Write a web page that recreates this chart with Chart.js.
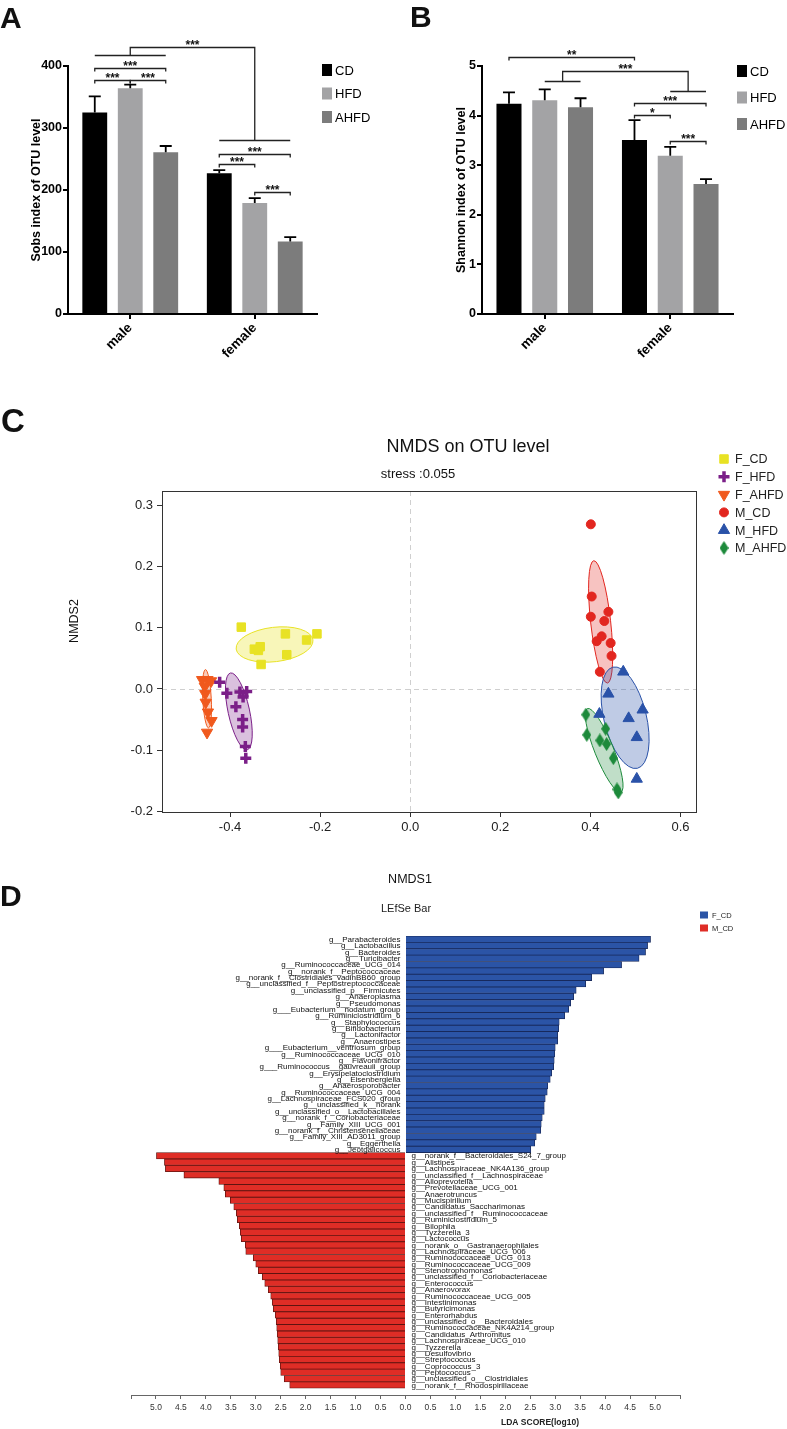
<!DOCTYPE html>
<html lang="en">
<head>
<meta charset="utf-8">
<title>Diet and sex effects on gut microbiota</title>
<script src="https://cdn.jsdelivr.net/npm/chart.js@4.4.1/dist/chart.umd.min.js"></script>
<style>
  html, body { margin: 0; padding: 0; background: #fff; }
  body { position: relative; width: 787px; height: 1429px; overflow: hidden; }
  canvas { position: absolute; }
  .letter { position: absolute; margin: 0; font: bold 30px/30px 'Liberation Sans', Arial, sans-serif; color: #111; }
</style>
</head>
<body>
<canvas id="chartA" width="390" height="370" style="left:0;top:0"></canvas>
<canvas id="chartB" width="397" height="370" style="left:390px;top:0"></canvas>
<canvas id="chartC" width="787" height="530" style="left:0;top:370px"></canvas>
<canvas id="chartD" width="787" height="549" style="left:0;top:880px"></canvas>

<div class="letter" style="left:0;top:3px">A</div>
<div class="letter" style="left:410px;top:2px">B</div>
<div class="letter" style="left:1px;top:404px;font-size:33px;line-height:33px">C</div>
<div class="letter" style="left:0;top:881px">D</div>

<script>
const SANS = "'Liberation Sans', Arial, Helvetica, sans-serif";
Chart.defaults.font.family = SANS;
Chart.defaults.color = '#000';

// ---------- A / B : alpha diversity, mean and SEM ----------
const sexes = ['male', 'female'];
const diets = ['CD', 'HFD', 'AHFD'];

const sobsCD = [325, 227];
const sobsHFD = [364, 179];
const sobsAHFD = [261, 117];
const sobsSemCD = [26, 5];
const sobsSemHFD = [6, 8];
const sobsSemAHFD = [10, 7];
const sobsTicks = [0, 100, 200, 300, 400];

const shannonCD = [4.24, 3.51];
const shannonHFD = [4.31, 3.19];
const shannonAHFD = [4.17, 2.62];
const shannonSemCD = [0.23, 0.40];
const shannonSemHFD = [0.22, 0.18];
const shannonSemAHFD = [0.18, 0.10];
const shannonTicks = [0, 1, 2, 3, 4, 5];

// pairwise tests: a/b = [sex index, diet index], y = bracket height in data units
const sobsPairs = [
  { a: [0, 0], b: [0, 1], y: 378, label: '***' },
  { a: [0, 1], b: [0, 2], y: 378, label: '***' },
  { a: [0, 0], b: [0, 2], y: 396, label: '***' },
  { a: [1, 0], b: [1, 2], y: 258, label: '***' },
  { a: [1, 0], b: [1, 1], y: 242, label: '***' },
  { a: [1, 1], b: [1, 2], y: 197, label: '***' }
];
// male vs female: [sex, first diet, last diet]
const sobsSexTest = { left: [0, 0, 2], leftY: 417, right: [1, 0, 2], rightY: 280, top: 430, label: '***' };

const shannonPairs = [
  { a: [0, 0], b: [1, 0], y: 5.19, label: '**' },
  { a: [1, 0], b: [1, 2], y: 4.25, label: '***' },
  { a: [1, 0], b: [1, 1], y: 4.01, label: '*' },
  { a: [1, 1], b: [1, 2], y: 3.48, label: '***' }
];
const shannonSexTest = { left: [0, 1, 2], leftY: 4.70, right: [1, 1, 2], rightY: 4.50, top: 4.90, label: '***' };

const dietColors = ['#000000', '#a3a3a5', '#7c7c7c'];

// ---------- C : NMDS on OTU level ----------
const nmdsGroups = ['F_CD', 'F_HFD', 'F_AHFD', 'M_CD', 'M_HFD', 'M_AHFD'];
const fCD_x = [-0.375, -0.346, -0.333, -0.337, -0.331, -0.277, -0.274, -0.230, -0.207];
const fCD_y = [0.101, 0.065, 0.069, 0.063, 0.040, 0.090, 0.056, 0.080, 0.090];
const fHFD_x = [-0.423, -0.407, -0.378, -0.363, -0.371, -0.387, -0.372, -0.372, -0.366, -0.365];
const fHFD_y = [0.011, -0.007, -0.005, -0.004, -0.013, -0.029, -0.050, -0.062, -0.094, -0.113];
const fAHFD_x = [-0.462, -0.450, -0.442, -0.456, -0.455, -0.454, -0.449, -0.441, -0.451];
const fAHFD_y = [0.015, 0.015, 0.013, 0.004, -0.008, -0.022, -0.038, -0.052, -0.071];
const mCD_x = [0.401, 0.403, 0.401, 0.440, 0.431, 0.425, 0.414, 0.445, 0.447, 0.421];
const mCD_y = [0.269, 0.151, 0.118, 0.126, 0.111, 0.086, 0.078, 0.075, 0.054, 0.028];
const mHFD_x = [0.473, 0.440, 0.420, 0.485, 0.516, 0.503, 0.503];
const mHFD_y = [0.028, -0.008, -0.041, -0.048, -0.034, -0.079, -0.147];
const mAHFD_x = [0.390, 0.392, 0.421, 0.434, 0.436, 0.451, 0.459, 0.462];
const mAHFD_y = [-0.042, -0.075, -0.084, -0.065, -0.090, -0.113, -0.164, -0.169];
const nmdsXTicks = [-0.4, -0.2, 0.0, 0.2, 0.4, 0.6];
const nmdsYTicks = [-0.2, -0.1, 0.0, 0.1, 0.2, 0.3];
const nmdsXRange = [-0.551, 0.6345];
const nmdsYRange = [-0.201, 0.3234];

// ---------- D : LEfSe ----------
const fcdTaxa = [
  'g__Parabacteroides', 'g__Lactobacillus', 'g__Bacteroides', 'g__Turicibacter',
  'g__Ruminococcaceae_UCG_014', 'g__norank_f__Peptococcaceae', 'g__norank_f__Clostridiales_vadinBB60_group',
  'g__unclassified_f__Peptostreptococcaceae', 'g__unclassified_p__Firmicutes', 'g__Anaeroplasma',
  'g__Pseudomonas', 'g___Eubacterium__nodatum_group', 'g__Ruminiclostridium_6', 'g__Staphylococcus',
  'g__Bifidobacterium', 'g__Lactonifactor', 'g__Anaerostipes', 'g___Eubacterium__ventriosum_group',
  'g__Ruminococcaceae_UCG_010', 'g__Flavonifractor', 'g___Ruminococcus__gauvreauii_group',
  'g__Erysipelatoclostridium', 'g__Eisenbergiella', 'g__Anaerosporobacter', 'g__Ruminococcaceae_UCG_004',
  'g__Lachnospiraceae_FCS020_group', 'g__unclassified_k__norank', 'g__unclassified_o__Lactobacillales',
  'g__norank_f__Coriobacteriaceae', 'g__Family_XIII_UCG_001', 'g__norank_f__Christensenellaceae',
  'g__Family_XIII_AD3011_group', 'g__Eggerthella', 'g__Jeotgalicoccus'
];
const fcdLDA = [4.91, 4.85, 4.81, 4.68, 4.33, 3.97, 3.73, 3.61, 3.42, 3.37, 3.31, 3.27, 3.19, 3.08,
  3.07, 3.05, 3.05, 3.00, 2.99, 2.98, 2.97, 2.93, 2.90, 2.85, 2.84, 2.80, 2.78, 2.78, 2.74, 2.72,
  2.71, 2.62, 2.59, 2.51];
const mcdTaxa = [
  'g__norank_f__Bacteroidales_S24_7_group', 'g__Alistipes', 'g__Lachnospiraceae_NK4A136_group',
  'g__unclassified_f__Lachnospiraceae', 'g__Alloprevotella', 'g__Prevotellaceae_UCG_001', 'g__Anaerotruncus',
  'g__Mucispirillum', 'g__Candidatus_Saccharimonas', 'g__unclassified_f__Ruminococcaceae',
  'g__Ruminiclostridium_5', 'g__Bilophila', 'g__Tyzzerella_3', 'g__Lactococcus',
  'g__norank_o__Gastranaerophilales', 'g__Lachnospiraceae_UCG_006', 'g__Ruminococcaceae_UCG_013',
  'g__Ruminococcaceae_UCG_009', 'g__Stenotrophomonas', 'g__unclassified_f__Coriobacteriaceae',
  'g__Enterococcus', 'g__Anaerovorax', 'g__Ruminococcaceae_UCG_005', 'g__Intestinimonas',
  'g__Butyricimonas', 'g__Enterorhabdus', 'g__unclassified_o__Bacteroidales',
  'g__Ruminococcaceae_NK4A214_group', 'g__Candidatus_Arthromitus', 'g__Lachnospiraceae_UCG_010',
  'g__Tyzzerella', 'g__Desulfovibrio', 'g__Streptococcus', 'g__Coprococcus_3', 'g__Peptococcus',
  'g__unclassified_o__Clostridiales', 'g__norank_f__Rhodospirillaceae'
];
const mcdLDA = [4.99, 4.83, 4.81, 4.44, 3.74, 3.64, 3.61, 3.51, 3.44, 3.39, 3.37, 3.33, 3.31, 3.29,
  3.21, 3.20, 3.05, 3.00, 2.95, 2.87, 2.82, 2.75, 2.70, 2.67, 2.65, 2.61, 2.59, 2.58, 2.57, 2.56,
  2.55, 2.54, 2.53, 2.51, 2.50, 2.43, 2.32];
const ldaTicks = [-5.5, -5, -4.5, -4, -3.5, -3, -2.5, -2, -1.5, -1, -0.5, 0, 0.5, 1, 1.5, 2, 2.5, 3, 3.5, 4, 4.5, 5, 5.5];

// ================= plugins =================
function errorBarPlugin(sems) {
  return {
    id: 'errorBars',
    afterDatasetsDraw(chart) {
      const { ctx } = chart;
      const y = chart.scales.y;
      ctx.save();
      ctx.strokeStyle = '#000';
      ctx.lineWidth = 1.8;
      chart.data.datasets.forEach((ds, i) => {
        chart.getDatasetMeta(i).data.forEach((bar, j) => {
          const top = y.getPixelForValue(ds.data[j] + sems[i][j]);
          ctx.beginPath();
          ctx.moveTo(bar.x, bar.y);
          ctx.lineTo(bar.x, top);
          ctx.moveTo(bar.x - 6, top);
          ctx.lineTo(bar.x + 6, top);
          ctx.stroke();
        });
      });
      ctx.restore();
    }
  };
}

function signifPlugin(pairs, sexTest) {
  return {
    id: 'signif',
    afterDatasetsDraw(chart) {
      const { ctx } = chart;
      const y = chart.scales.y;
      const barX = (sex, diet) => chart.getDatasetMeta(diet).data[sex].x;
      ctx.save();
      ctx.strokeStyle = '#222';
      ctx.fillStyle = '#111';
      ctx.lineWidth = 1.3;
      ctx.font = `bold 12px ${SANS}`;
      ctx.textAlign = 'center';
      ctx.textBaseline = 'alphabetic';
      pairs.forEach(p => {
        const x1 = barX(p.a[0], p.a[1]);
        const x2 = barX(p.b[0], p.b[1]);
        const py = Math.round(y.getPixelForValue(p.y)) + 0.5;
        ctx.beginPath();
        ctx.moveTo(x1, py + 3);
        ctx.lineTo(x1, py);
        ctx.lineTo(x2, py);
        ctx.lineTo(x2, py + 3);
        ctx.stroke();
        ctx.fillText(p.label, (x1 + x2) / 2, py + 1.5);
      });
      if (sexTest) {
        const side = (s, v) => {
          const a = barX(s[0], s[1]), b = barX(s[0], s[2]);
          return { a, b, mid: (a + b) / 2, py: Math.round(y.getPixelForValue(v)) + 0.5 };
        };
        const L = side(sexTest.left, sexTest.leftY);
        const R = side(sexTest.right, sexTest.rightY);
        const top = Math.round(y.getPixelForValue(sexTest.top)) + 0.5;
        ctx.beginPath();
        ctx.moveTo(L.a, L.py); ctx.lineTo(L.b, L.py);
        ctx.moveTo(L.mid, L.py); ctx.lineTo(L.mid, top); ctx.lineTo(R.mid, top); ctx.lineTo(R.mid, R.py);
        ctx.moveTo(R.a, R.py); ctx.lineTo(R.b, R.py);
        ctx.stroke();
        ctx.fillText(sexTest.label, (L.mid + R.mid) / 2, top + 1.5);
      }
      ctx.restore();
    }
  };
}

function boxLegendPlugin(x, y0, step) {
  return {
    id: 'boxLegend',
    afterDraw(chart) {
      const { ctx } = chart;
      ctx.save();
      ctx.font = `13px ${SANS}`;
      ctx.textAlign = 'left';
      ctx.textBaseline = 'middle';
      chart.data.datasets.forEach((ds, i) => {
        const cy = y0 + i * step;
        ctx.fillStyle = ds.backgroundColor;
        ctx.fillRect(x, cy - 6, 10, 12);
        ctx.fillStyle = '#000';
        ctx.fillText(ds.label, x + 13, cy + 1);
      });
      ctx.restore();
    }
  };
}

// bar chart of one alpha-diversity index (panels A and B)
function alphaChart(id, cfg) {
  const sems = cfg.sems;
  return new Chart(document.getElementById(id), {
    type: 'bar',
    data: {
      labels: sexes,
      datasets: diets.map((d, i) => ({
        label: d,
        data: cfg.means[i],
        backgroundColor: dietColors[i],
        borderWidth: 0,
        categoryPercentage: 0.855,
        barPercentage: 0.70
      }))
    },
    options: {
      responsive: false,
      animation: false,
      layout: { padding: cfg.padding },
      plugins: { legend: { display: false }, tooltip: { enabled: false } },
      scales: {
        x: {
          grid: { offset: false, drawOnChartArea: false, drawTicks: true, tickLength: 5, color: '#000', lineWidth: 2 },
          border: { color: '#000', width: 2 },
          ticks: { font: { weight: 'bold', size: 13.5 }, color: '#000', minRotation: 45, maxRotation: 45, padding: 1, autoSkip: false },
          afterFit: s => { s.height = 56; }
        },
        y: {
          min: cfg.ticks[0],
          max: cfg.ticks[cfg.ticks.length - 1],
          afterBuildTicks: s => { s.ticks = cfg.ticks.map(v => ({ value: v })); },
          grid: { drawOnChartArea: false, drawTicks: true, tickLength: 5, color: '#000', lineWidth: 2 },
          border: { color: '#000', width: 2 },
          ticks: { font: { weight: 'bold', size: 12.5 }, color: '#000', padding: 1 },
          title: { display: true, text: cfg.title, font: { weight: 'bold', size: 12.5 }, color: '#000', padding: { top: 0, bottom: 0 } },
          afterFit: s => { s.width = cfg.yWidth; }
        }
      }
    },
    plugins: [errorBarPlugin(sems), signifPlugin(cfg.pairs, cfg.sexTest), boxLegendPlugin(cfg.legendX, cfg.legendY, cfg.legendStep)]
  });
}

alphaChart('chartA', {
  means: [sobsCD, sobsHFD, sobsAHFD],
  sems: [sobsSemCD, sobsSemHFD, sobsSemAHFD],
  ticks: sobsTicks,
  title: 'Sobs index of OTU level',
  pairs: sobsPairs,
  sexTest: sobsSexTest,
  padding: { top: 66, left: 29, right: 73, bottom: 0 },
  yWidth: 39,
  legendX: 322, legendY: 70, legendStep: 23.5
});

alphaChart('chartB', {
  means: [shannonCD, shannonHFD, shannonAHFD],
  sems: [shannonSemCD, shannonSemHFD, shannonSemAHFD],
  ticks: shannonTicks,
  title: 'Shannon index of OTU level',
  pairs: shannonPairs,
  sexTest: shannonSexTest,
  padding: { top: 66, left: 64, right: 54, bottom: 0 },
  yWidth: 28,
  legendX: 347, legendY: 71, legendStep: 26.5
});

// ---------- panel C ----------
function diamondImage(color, w, h) {
  const c = document.createElement('canvas');
  c.width = w; c.height = h;
  const g = c.getContext('2d');
  g.fillStyle = color;
  g.beginPath();
  g.moveTo(w / 2, 0); g.lineTo(w, h / 2); g.lineTo(w / 2, h); g.lineTo(0, h / 2);
  g.closePath();
  g.fill();
  return c;
}

const nmdsXs = [fCD_x, fHFD_x, fAHFD_x, mCD_x, mHFD_x, mAHFD_x];
const nmdsYs = [fCD_y, fHFD_y, fAHFD_y, mCD_y, mHFD_y, mAHFD_y];
const nmdsLook = [
  { color: '#e8e224', fill: 'rgba(232,226,36,0.32)', style: 'rect', radius: 6, rotation: 0, bw: 1 },
  { color: '#7b1f88', fill: 'rgba(123,31,136,0.28)', style: 'cross', radius: 5.5, rotation: 0, bw: 3.5 },
  { color: '#f0591d', fill: 'rgba(240,89,29,0.30)', style: 'triangle', radius: 6.5, rotation: 180, bw: 1 },
  { color: '#e2261f', fill: 'rgba(226,38,31,0.28)', style: 'circle', radius: 4.5, rotation: 0, bw: 1 },
  { color: '#2a52a8', fill: 'rgba(42,82,168,0.30)', style: 'triangle', radius: 6.5, rotation: 0, bw: 1 },
  { color: '#1d8a3b', fill: 'rgba(29,138,59,0.28)', style: diamondImage('#1d8a3b', 9, 14), radius: 6, rotation: 0, bw: 0 }
];
const ELLIPSE_K = 1.5;

const nmdsPlugin = {
  id: 'nmdsExtras',
  beforeDatasetsDraw(chart) {
    const { ctx, chartArea: a } = chart;
    const { x, y } = chart.scales;
    ctx.save();
    // dashed lines through the origin
    ctx.setLineDash([5, 4]);
    ctx.strokeStyle = '#cfcfcf';
    ctx.lineWidth = 1;
    const x0 = Math.round(x.getPixelForValue(0)) + 0.5, y0 = Math.round(y.getPixelForValue(0)) + 0.5;
    ctx.beginPath();
    ctx.moveTo(x0, a.top); ctx.lineTo(x0, a.bottom);
    ctx.moveTo(a.left, y0); ctx.lineTo(a.right, y0);
    ctx.stroke();
    ctx.setLineDash([]);
    // covariance ellipse per group
    nmdsXs.forEach((xs, i) => {
      const px = xs.map(v => x.getPixelForValue(v));
      const py = nmdsYs[i].map(v => y.getPixelForValue(v));
      const n = px.length;
      const mx = px.reduce((s, v) => s + v, 0) / n, my = py.reduce((s, v) => s + v, 0) / n;
      let sxx = 0, syy = 0, sxy = 0;
      for (let k = 0; k < n; k++) {
        sxx += (px[k] - mx) ** 2; syy += (py[k] - my) ** 2; sxy += (px[k] - mx) * (py[k] - my);
      }
      sxx /= n - 1; syy /= n - 1; sxy /= n - 1;
      const half = (sxx + syy) / 2, d = Math.sqrt(((sxx - syy) / 2) ** 2 + sxy * sxy);
      const l1 = half + d, l2 = Math.max(half - d, 0.01);
      const ang = 0.5 * Math.atan2(2 * sxy, sxx - syy);
      ctx.beginPath();
      ctx.ellipse(mx, my, ELLIPSE_K * Math.sqrt(l1), ELLIPSE_K * Math.sqrt(l2), ang, 0, 2 * Math.PI);
      ctx.fillStyle = nmdsLook[i].fill;
      ctx.fill();
      ctx.strokeStyle = nmdsLook[i].color;
      ctx.lineWidth = 1;
      ctx.stroke();
    });
    ctx.restore();
  },
  afterDraw(chart) {
    const { ctx, chartArea: a } = chart;
    ctx.save();
    ctx.strokeStyle = '#333';
    ctx.lineWidth = 1;
    ctx.strokeRect(Math.round(a.left) + 0.5, Math.round(a.top) + 0.5, Math.round(a.right - a.left), Math.round(a.bottom - a.top));
    ctx.fillStyle = '#111';
    ctx.textAlign = 'center';
    ctx.textBaseline = 'middle';
    ctx.font = `18px ${SANS}`;
    ctx.fillText('NMDS on OTU level', 468, 77);
    ctx.font = `13px ${SANS}`;
    ctx.fillText('stress :0.055', 418, 104);
    ctx.font = `12.5px ${SANS}`;
    ctx.fillText('NMDS1', 410, 510);
    ctx.save();
    ctx.translate(75, 251);
    ctx.rotate(-Math.PI / 2);
    ctx.fillText('NMDS2', 0, 0);
    ctx.restore();
    // legend
    ctx.textAlign = 'left';
    ctx.font = `12.5px ${SANS}`;
    nmdsGroups.forEach((g, i) => {
      const cy = 89 + i * 17.8;
      const look = nmdsLook[i];
      ctx.fillStyle = look.color;
      ctx.strokeStyle = look.color;
      ctx.lineWidth = look.bw;
      if (Chart.helpers && Chart.helpers.drawPoint) {
        Chart.helpers.drawPoint(ctx, { pointStyle: look.style, rotation: look.rotation, radius: look.radius, borderWidth: look.bw }, 724, cy);
      } else {
        ctx.fillRect(720, cy - 4, 8, 8);
      }
      ctx.fillStyle = '#222';
      ctx.fillText(g, 735, cy + 1);
    });
    ctx.restore();
  }
};

new Chart(document.getElementById('chartC'), {
  type: 'scatter',
  data: {
    datasets: nmdsGroups.map((g, i) => ({
      label: g,
      data: nmdsXs[i].map((v, k) => ({ x: v, y: nmdsYs[i][k] })),
      pointStyle: nmdsLook[i].style,
      pointRadius: nmdsLook[i].radius,
      pointRotation: nmdsLook[i].rotation,
      backgroundColor: nmdsLook[i].color,
      borderColor: nmdsLook[i].color,
      borderWidth: nmdsLook[i].bw
    }))
  },
  options: {
    responsive: false,
    animation: false,
    layout: { padding: { top: 121, left: 0, right: 91, bottom: 0 } },
    plugins: { legend: { display: false }, tooltip: { enabled: false } },
    scales: {
      x: {
        type: 'linear',
        min: nmdsXRange[0], max: nmdsXRange[1],
        afterBuildTicks: s => { s.ticks = nmdsXTicks.map(v => ({ value: v })); },
        ticks: { callback: v => Number(v).toFixed(1), font: { size: 13 }, color: '#222', padding: 3, maxRotation: 0 },
        grid: { drawOnChartArea: false, drawTicks: true, tickLength: 5, color: '#333' },
        border: { display: false },
        afterFit: s => { s.height = 88; }
      },
      y: {
        type: 'linear',
        min: nmdsYRange[0], max: nmdsYRange[1],
        afterBuildTicks: s => { s.ticks = nmdsYTicks.map(v => ({ value: v })); },
        ticks: { callback: v => Number(v).toFixed(1), font: { size: 13 }, color: '#222', padding: 4 },
        grid: { drawOnChartArea: false, drawTicks: true, tickLength: 5, color: '#333' },
        border: { display: false },
        afterFit: s => { s.width = 162; }
      }
    }
  },
  plugins: [nmdsPlugin]
});

// ---------- panel D ----------
const lefsePlugin = {
  id: 'lefseText',
  afterDatasetsDraw(chart) {
    const { ctx } = chart;
    const zero = chart.scales.x.getPixelForValue(0);
    ctx.save();
    ctx.fillStyle = '#111';
    ctx.font = `8px ${SANS}`;
    ctx.textBaseline = 'middle';
    ctx.textAlign = 'right';
    chart.getDatasetMeta(0).data.forEach((bar, i) => ctx.fillText(fcdTaxa[i], zero - 5, bar.y + 0.5));
    ctx.textAlign = 'left';
    chart.getDatasetMeta(1).data.forEach((bar, i) => ctx.fillText(mcdTaxa[i], zero + 6, bar.y + 0.5));
    ctx.restore();
  },
  afterDraw(chart) {
    const { ctx } = chart;
    ctx.save();
    ctx.fillStyle = '#222';
    ctx.textAlign = 'center';
    ctx.textBaseline = 'middle';
    ctx.font = `11px ${SANS}`;
    ctx.fillText('LEfSe Bar', 406, 29);
    ctx.font = `bold 8.5px ${SANS}`;
    ctx.fillText('LDA SCORE(log10)', 540, 543);
    ctx.textAlign = 'left';
    ctx.font = `7.5px ${SANS}`;
    chart.data.datasets.forEach((ds, i) => {
      const cy = 35 + i * 13;
      ctx.fillStyle = ds.backgroundColor;
      ctx.fillRect(700, cy - 3.5, 8, 7);
      ctx.fillStyle = '#222';
      ctx.fillText(ds.label, 712, cy + 0.5);
    });
    ctx.restore();
  }
};

new Chart(document.getElementById('chartD'), {
  type: 'bar',
  data: {
    datasets: [
      {
        label: 'F_CD',
        data: fcdLDA.map((v, i) => ({ x: v, y: i })),
        backgroundColor: '#2b54a6',
        borderColor: '#182a5c',
        borderWidth: 0.8,
        grouped: false,
        categoryPercentage: 1,
        barPercentage: 1
      },
      {
        label: 'M_CD',
        data: mcdLDA.map((v, i) => ({ x: -v, y: fcdLDA.length + i })),
        backgroundColor: '#df2d26',
        borderColor: '#5e1410',
        borderWidth: 0.8,
        grouped: false,
        categoryPercentage: 1,
        barPercentage: 1
      }
    ]
  },
  options: {
    indexAxis: 'y',
    responsive: false,
    animation: false,
    layout: { padding: { top: 56, left: 131, right: 107, bottom: 0 } },
    plugins: { legend: { display: false }, tooltip: { enabled: false } },
    scales: {
      y: {
        type: 'linear',
        offset: false,
        min: -0.5,
        max: fcdLDA.length + mcdLDA.length + 0.56,
        reverse: true,
        display: true,
        grid: { display: false },
        border: { display: false },
        ticks: { display: false },
        afterFit: s => { s.width = 0; }
      },
      x: {
        type: 'linear',
        min: ldaTicks[0], max: ldaTicks[ldaTicks.length - 1],
        afterBuildTicks: s => { s.ticks = ldaTicks.map(v => ({ value: v })); },
        ticks: {
          callback: v => (Math.abs(v) > 5.01 ? '' : Math.abs(v).toFixed(1)),
          font: { size: 8.5 }, color: '#333', padding: 4, maxRotation: 0, autoSkip: false
        },
        grid: { drawOnChartArea: false, drawTicks: true, tickLength: 4, color: '#666' },
        border: { display: true, color: '#666', width: 1 },
        afterFit: s => { s.height = 34; }
      }
    }
  },
  plugins: [lefsePlugin]
});
</script>
</body>
</html>
